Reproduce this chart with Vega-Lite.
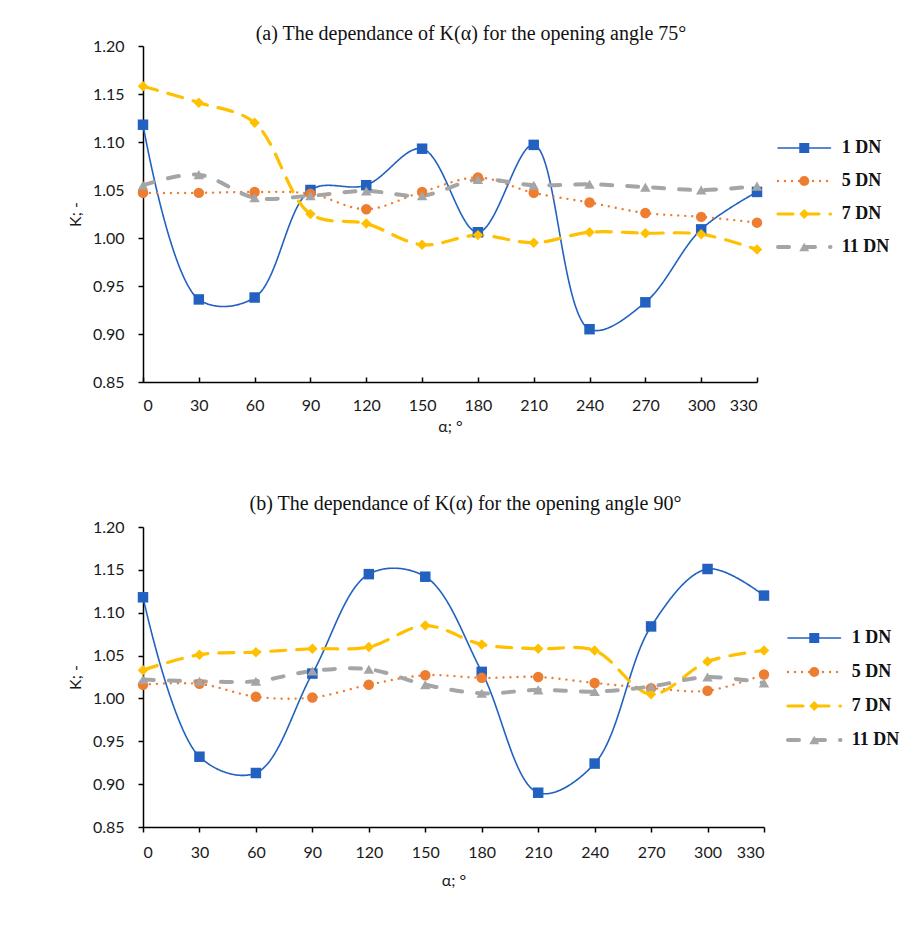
{
  "$schema": "https://vega.github.io/schema/vega-lite/v6.json",
  "background": "white",
  "padding": {"left": 67, "top": 24, "right": 0, "bottom": 0},
  "config": {
    "view": {"stroke": null},
    "axis": {
      "domainColor": "black", "domainWidth": 1.5, "tickColor": "black", "tickWidth": 1.5,
      "labelFont": "Lato", "labelFontSize": 16, "labelColor": "#1a1a1a",
      "titleFont": "Lato", "titleFontSize": 16, "titleFontWeight": "normal", "titleColor": "#1a1a1a",
      "grid": false
    },
    "title": {"font": "Liberation Serif", "fontSize": 20, "fontWeight": "normal", "color": "#111"}
  },
  "datasets": {
    "p75": [
      {"series": "1 DN", "a": 0, "K": 1.118}, {"series": "1 DN", "a": 30, "K": 0.936}, {"series": "1 DN", "a": 60, "K": 0.938}, {"series": "1 DN", "a": 90, "K": 1.050}, {"series": "1 DN", "a": 120, "K": 1.055}, {"series": "1 DN", "a": 150, "K": 1.093}, {"series": "1 DN", "a": 180, "K": 1.006}, {"series": "1 DN", "a": 210, "K": 1.097}, {"series": "1 DN", "a": 240, "K": 0.905}, {"series": "1 DN", "a": 270, "K": 0.933}, {"series": "1 DN", "a": 300, "K": 1.009}, {"series": "1 DN", "a": 330, "K": 1.048},
      {"series": "5 DN", "a": 0, "K": 1.047}, {"series": "5 DN", "a": 30, "K": 1.047}, {"series": "5 DN", "a": 60, "K": 1.048}, {"series": "5 DN", "a": 90, "K": 1.046}, {"series": "5 DN", "a": 120, "K": 1.030}, {"series": "5 DN", "a": 150, "K": 1.048}, {"series": "5 DN", "a": 180, "K": 1.063}, {"series": "5 DN", "a": 210, "K": 1.047}, {"series": "5 DN", "a": 240, "K": 1.037}, {"series": "5 DN", "a": 270, "K": 1.026}, {"series": "5 DN", "a": 300, "K": 1.022}, {"series": "5 DN", "a": 330, "K": 1.016},
      {"series": "7 DN", "a": 0, "K": 1.158}, {"series": "7 DN", "a": 30, "K": 1.141}, {"series": "7 DN", "a": 60, "K": 1.120}, {"series": "7 DN", "a": 90, "K": 1.025}, {"series": "7 DN", "a": 120, "K": 1.015}, {"series": "7 DN", "a": 150, "K": 0.993}, {"series": "7 DN", "a": 180, "K": 1.003}, {"series": "7 DN", "a": 210, "K": 0.995}, {"series": "7 DN", "a": 240, "K": 1.006}, {"series": "7 DN", "a": 270, "K": 1.005}, {"series": "7 DN", "a": 300, "K": 1.004}, {"series": "7 DN", "a": 330, "K": 0.988},
      {"series": "11 DN", "a": 0, "K": 1.055}, {"series": "11 DN", "a": 30, "K": 1.066}, {"series": "11 DN", "a": 60, "K": 1.042}, {"series": "11 DN", "a": 90, "K": 1.044}, {"series": "11 DN", "a": 120, "K": 1.049}, {"series": "11 DN", "a": 150, "K": 1.044}, {"series": "11 DN", "a": 180, "K": 1.061}, {"series": "11 DN", "a": 210, "K": 1.055}, {"series": "11 DN", "a": 240, "K": 1.056}, {"series": "11 DN", "a": 270, "K": 1.053}, {"series": "11 DN", "a": 300, "K": 1.050}, {"series": "11 DN", "a": 330, "K": 1.054}
    ],
    "p90": [
      {"series": "1 DN", "a": 0, "K": 1.118}, {"series": "1 DN", "a": 30, "K": 0.932}, {"series": "1 DN", "a": 60, "K": 0.913}, {"series": "1 DN", "a": 90, "K": 1.029}, {"series": "1 DN", "a": 120, "K": 1.145}, {"series": "1 DN", "a": 150, "K": 1.142}, {"series": "1 DN", "a": 180, "K": 1.031}, {"series": "1 DN", "a": 210, "K": 0.890}, {"series": "1 DN", "a": 240, "K": 0.924}, {"series": "1 DN", "a": 270, "K": 1.084}, {"series": "1 DN", "a": 300, "K": 1.151}, {"series": "1 DN", "a": 330, "K": 1.120},
      {"series": "5 DN", "a": 0, "K": 1.016}, {"series": "5 DN", "a": 30, "K": 1.017}, {"series": "5 DN", "a": 60, "K": 1.002}, {"series": "5 DN", "a": 90, "K": 1.001}, {"series": "5 DN", "a": 120, "K": 1.016}, {"series": "5 DN", "a": 150, "K": 1.027}, {"series": "5 DN", "a": 180, "K": 1.024}, {"series": "5 DN", "a": 210, "K": 1.025}, {"series": "5 DN", "a": 240, "K": 1.018}, {"series": "5 DN", "a": 270, "K": 1.012}, {"series": "5 DN", "a": 300, "K": 1.009}, {"series": "5 DN", "a": 330, "K": 1.028},
      {"series": "7 DN", "a": 0, "K": 1.033}, {"series": "7 DN", "a": 30, "K": 1.051}, {"series": "7 DN", "a": 60, "K": 1.054}, {"series": "7 DN", "a": 90, "K": 1.058}, {"series": "7 DN", "a": 120, "K": 1.060}, {"series": "7 DN", "a": 150, "K": 1.085}, {"series": "7 DN", "a": 180, "K": 1.063}, {"series": "7 DN", "a": 210, "K": 1.058}, {"series": "7 DN", "a": 240, "K": 1.056}, {"series": "7 DN", "a": 270, "K": 1.005}, {"series": "7 DN", "a": 300, "K": 1.043}, {"series": "7 DN", "a": 330, "K": 1.056},
      {"series": "11 DN", "a": 0, "K": 1.022}, {"series": "11 DN", "a": 30, "K": 1.020}, {"series": "11 DN", "a": 60, "K": 1.020}, {"series": "11 DN", "a": 90, "K": 1.032}, {"series": "11 DN", "a": 120, "K": 1.034}, {"series": "11 DN", "a": 150, "K": 1.016}, {"series": "11 DN", "a": 180, "K": 1.006}, {"series": "11 DN", "a": 210, "K": 1.010}, {"series": "11 DN", "a": 240, "K": 1.008}, {"series": "11 DN", "a": 270, "K": 1.014}, {"series": "11 DN", "a": 300, "K": 1.025}, {"series": "11 DN", "a": 330, "K": 1.018}
    ],
    "legend": [{"series": "1 DN"}, {"series": "5 DN"}, {"series": "7 DN"}, {"series": "11 DN"}]
  },
  "spacing": 60,
  "vconcat": [
    {
      "hconcat": [
        {
          "width": 614, "height": 336,
          "title": {"text": "(a) The dependance of K(α) for the opening angle 75°", "dx": 21, "offset": -6},
          "data": {"name": "p75"},
          "encoding": {
            "x": {"field": "a", "type": "quantitative", "scale": {"domain": [0, 330], "nice": false}, "axis": {"title": "α; °", "values": [0, 30, 60, 90, 120, 150, 180, 210, 240, 270, 300, 330], "tickSize": -5, "labelPadding": 20, "titlePadding": 5}},
            "y": {"field": "K", "type": "quantitative", "scale": {"domain": [0.85, 1.2], "nice": false, "zero": false}, "axis": {"title": "K; -", "values": [0.85, 0.9, 0.95, 1.0, 1.05, 1.1, 1.15, 1.2], "format": ".2f", "tickSize": 5, "labelPadding": 14, "titlePadding": 9}},
            "color": {"field": "series", "type": "nominal", "legend": null, "scale": {"domain": ["1 DN", "5 DN", "7 DN", "11 DN"], "range": ["#2261C0", "#ED7D31", "#FFC000", "#A5A5A5"]}}
          },
          "layer": [
            {
              "mark": {"type": "line", "interpolate": "catmull-rom", "strokeCap": "round"},
              "encoding": {
                "strokeDash": {"field": "series", "type": "nominal", "legend": null, "scale": {"domain": ["1 DN", "5 DN", "7 DN", "11 DN"], "range": [[1, 0], [0.01, 7], [15, 11], [11, 15]]}},
                "strokeWidth": {"field": "series", "type": "ordinal", "legend": null, "scale": {"domain": ["1 DN", "5 DN", "7 DN", "11 DN"], "range": [1.6, 4, 2.6, 4]}}
              }
            },
            {
              "mark": {"type": "point", "filled": true, "opacity": 1, "size": 110},
              "encoding": {
                "shape": {"field": "series", "type": "nominal", "legend": null, "scale": {"domain": ["1 DN", "5 DN", "7 DN", "11 DN"], "range": ["square", "circle", "diamond", "triangle-up"]}}
              }
            }
          ]
        },
        {
          "width": 125, "height": 336,
          "data": {"name": "legend"},
          "encoding": {
            "y": {"field": "series", "type": "ordinal", "axis": null, "scale": {"type": "point", "domain": ["1 DN", "5 DN", "7 DN", "11 DN"], "padding": 0, "range": [102, 201]}},
            "color": {"field": "series", "type": "nominal", "legend": null, "scale": {"domain": ["1 DN", "5 DN", "7 DN", "11 DN"], "range": ["#2261C0", "#ED7D31", "#FFC000", "#A5A5A5"]}}
          },
          "layer": [
            {
              "mark": {"type": "rule", "strokeCap": "round"},
              "encoding": {
                "x": {"datum": 0, "type": "quantitative", "scale": {"domain": [0, 1], "nice": false}, "axis": null},
                "x2": {"datum": 0.42},
                "strokeDash": {"field": "series", "type": "nominal", "legend": null, "scale": {"domain": ["1 DN", "5 DN", "7 DN", "11 DN"], "range": [[1, 0], [0.01, 7], [15, 11], [11, 15]]}},
                "strokeWidth": {"field": "series", "type": "ordinal", "legend": null, "scale": {"domain": ["1 DN", "5 DN", "7 DN", "11 DN"], "range": [1.6, 4, 2.6, 4]}}
              }
            },
            {
              "mark": {"type": "point", "filled": true, "opacity": 1, "size": 100},
              "encoding": {
                "x": {"datum": 0.21, "type": "quantitative"},
                "shape": {"field": "series", "type": "nominal", "legend": null, "scale": {"domain": ["1 DN", "5 DN", "7 DN", "11 DN"], "range": ["square", "circle", "diamond", "triangle-up"]}}
              }
            },
            {
              "mark": {"type": "text", "align": "left", "baseline": "middle", "font": "Liberation Serif", "fontSize": 18, "fontWeight": "bold"},
              "encoding": {
                "x": {"datum": 0.51, "type": "quantitative"},
                "text": {"field": "series"},
                "color": {"value": "#111"}
              }
            }
          ]
        }
      ],
      "spacing": 21,
      "bounds": "flush"
    },
    {
      "hconcat": [
        {
          "width": 621, "height": 300,
          "title": {"text": "(b) The dependance of  K(α) for the opening angle 90°", "dx": 12, "offset": 5},
          "data": {"name": "p90"},
          "encoding": {
            "x": {"field": "a", "type": "quantitative", "scale": {"domain": [0, 330], "nice": false}, "axis": {"title": "α; °", "values": [0, 30, 60, 90, 120, 150, 180, 210, 240, 270, 300, 330], "tickSize": 5, "labelPadding": 12, "titlePadding": 12}},
            "y": {"field": "K", "type": "quantitative", "scale": {"domain": [0.85, 1.2], "nice": false, "zero": false}, "axis": {"title": "K; -", "values": [0.85, 0.9, 0.95, 1.0, 1.05, 1.1, 1.15, 1.2], "format": ".2f", "tickSize": 5, "labelPadding": 14, "titlePadding": 9}},
            "color": {"field": "series", "type": "nominal", "legend": null, "scale": {"domain": ["1 DN", "5 DN", "7 DN", "11 DN"], "range": ["#2261C0", "#ED7D31", "#FFC000", "#A5A5A5"]}}
          },
          "layer": [
            {
              "mark": {"type": "line", "interpolate": "catmull-rom", "strokeCap": "round"},
              "encoding": {
                "strokeDash": {"field": "series", "type": "nominal", "legend": null, "scale": {"domain": ["1 DN", "5 DN", "7 DN", "11 DN"], "range": [[1, 0], [0.01, 7], [15, 11], [11, 15]]}},
                "strokeWidth": {"field": "series", "type": "ordinal", "legend": null, "scale": {"domain": ["1 DN", "5 DN", "7 DN", "11 DN"], "range": [1.6, 4, 2.6, 4]}}
              }
            },
            {
              "mark": {"type": "point", "filled": true, "opacity": 1, "size": 110},
              "encoding": {
                "shape": {"field": "series", "type": "nominal", "legend": null, "scale": {"domain": ["1 DN", "5 DN", "7 DN", "11 DN"], "range": ["square", "circle", "diamond", "triangle-up"]}}
              }
            }
          ]
        },
        {
          "width": 125, "height": 300,
          "data": {"name": "legend"},
          "encoding": {
            "y": {"field": "series", "type": "ordinal", "axis": null, "scale": {"type": "point", "domain": ["1 DN", "5 DN", "7 DN", "11 DN"], "padding": 0, "range": [111, 213]}},
            "color": {"field": "series", "type": "nominal", "legend": null, "scale": {"domain": ["1 DN", "5 DN", "7 DN", "11 DN"], "range": ["#2261C0", "#ED7D31", "#FFC000", "#A5A5A5"]}}
          },
          "layer": [
            {
              "mark": {"type": "rule", "strokeCap": "round"},
              "encoding": {
                "x": {"datum": 0, "type": "quantitative", "scale": {"domain": [0, 1], "nice": false}, "axis": null},
                "x2": {"datum": 0.42},
                "strokeDash": {"field": "series", "type": "nominal", "legend": null, "scale": {"domain": ["1 DN", "5 DN", "7 DN", "11 DN"], "range": [[1, 0], [0.01, 7], [15, 11], [11, 15]]}},
                "strokeWidth": {"field": "series", "type": "ordinal", "legend": null, "scale": {"domain": ["1 DN", "5 DN", "7 DN", "11 DN"], "range": [1.6, 4, 2.6, 4]}}
              }
            },
            {
              "mark": {"type": "point", "filled": true, "opacity": 1, "size": 100},
              "encoding": {
                "x": {"datum": 0.21, "type": "quantitative"},
                "shape": {"field": "series", "type": "nominal", "legend": null, "scale": {"domain": ["1 DN", "5 DN", "7 DN", "11 DN"], "range": ["square", "circle", "diamond", "triangle-up"]}}
              }
            },
            {
              "mark": {"type": "text", "align": "left", "baseline": "middle", "font": "Liberation Serif", "fontSize": 18, "fontWeight": "bold"},
              "encoding": {
                "x": {"datum": 0.51, "type": "quantitative"},
                "text": {"field": "series"},
                "color": {"value": "#111"}
              }
            }
          ]
        }
      ],
      "spacing": 24,
      "bounds": "flush"
    }
  ]
}
